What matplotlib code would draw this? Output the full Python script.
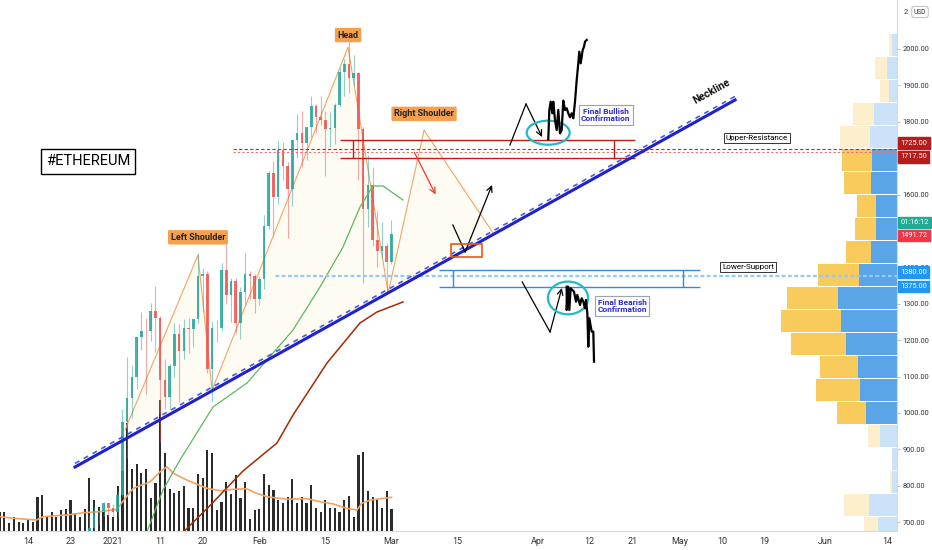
import matplotlib
matplotlib.use("Agg")
import matplotlib.pyplot as plt
import numpy as np
from matplotlib.patches import Ellipse, Rectangle, Polygon

plt.rcParams["font.family"] = ["Roboto", "DejaVu Sans"]

# ---- daily ETH candles, days counted from 1 Jan 2021 ----
DAYS = list(range(-5, 60))
OPEN = [635, 683, 731, 732, 752, 738, 729, 774, 976, 1041, 1099, 1208, 1225, 1224, 1281, 1262,
        1090, 1044, 1130, 1218, 1171, 1233, 1230, 1257, 1377, 1382, 1121, 1233, 1234, 1392, 1323,
        1362, 1246, 1332, 1381, 1377, 1314, 1369, 1514, 1660, 1593, 1723, 1678, 1614, 1750, 1769,
        1743, 1785, 1843, 1813, 1804, 1779, 1782, 1846, 1937, 1960, 1919, 1935, 1780, 1560, 1626,
        1475, 1446, 1459, 1416]
HIGH = [719, 745, 737, 755, 754, 749, 787, 1011, 1153, 1131, 1210, 1277, 1260, 1302, 1350, 1266,
        1149, 1135, 1247, 1244, 1259, 1260, 1257, 1440, 1397, 1390, 1254, 1256, 1411, 1470, 1370,
        1372, 1346, 1439, 1389, 1382, 1375, 1543, 1665, 1693, 1750, 1745, 1690, 1750, 1822, 1830,
        1787, 1870, 1850, 1872, 1830, 1827, 1853, 1951, 1972, 2042, 1983, 1938, 1785, 1710, 1675,
        1555, 1525, 1468, 1530]
LOW = [630, 681, 692, 716, 716, 714, 714, 768, 877, 986, 1065, 1172, 1051, 1198, 1167, 920,
       1010, 1011, 1100, 1030, 1149, 1165, 1181, 1248, 1278, 1110, 1031, 1196, 1226, 1300, 1251,
       1220, 1204, 1297, 1313, 1274, 1296, 1342, 1505, 1493, 1574, 1640, 1480, 1569, 1700, 1676,
       1696, 1759, 1770, 1790, 1652, 1730, 1740, 1842, 1871, 1880, 1897, 1640, 1357, 1510, 1460,
       1400, 1427, 1330, 1410]
CLOSE = [683, 731, 732, 752, 738, 729, 774, 976, 1041, 1099, 1208, 1225, 1224, 1281, 1262, 1090,
         1044, 1130, 1218, 1171, 1233, 1230, 1257, 1377, 1382, 1121, 1233, 1234, 1392, 1323, 1362,
         1246, 1332, 1381, 1377, 1314, 1369, 1514, 1660, 1593, 1723, 1678, 1614, 1750, 1769, 1743,
         1785, 1843, 1813, 1804, 1779, 1782, 1846, 1937, 1960, 1919, 1935, 1780, 1560, 1626, 1475,
         1446, 1459, 1416, 1491.72]

VOL_DAYS = list(range(-24, 60))
VOLUME = [19, 19, 8, 14, 9, 8, 11, 9, 34, 36, 14, 19, 14, 21, 22, 31, 18, 14, 22, 53, 31, 24, 21, 16,
          14, 45, 60, 108, 62, 67, 58, 62, 33, 48, 131, 78, 42, 38, 40, 45, 23, 23, 57, 53, 81, 78,
          21, 29, 49, 37, 56, 33, 49, 12, 21, 22, 57, 46, 41, 31, 28, 34, 52, 28, 34, 28, 46, 23,
          19, 31, 23, 23, 19, 31, 35, 14, 76, 79, 40, 34, 31, 23, 40, 22]
VOL_MA_DAYS = [-23.9, -21.1, -16.2, -14.8, -9.8, -6.3, -2.8, 0.8, 2.6, 4.3, 7.9, 10.0, 11.4, 12.8,
               15.6, 17.7, 19.9, 22.7, 25.5, 28.3, 30.4, 32.6, 36.8, 41.1, 43.9, 46.7, 49.5, 51.7,
               52.7, 54.5, 59.0]
VOL_MA = [14.3, 12.7, 11, 14.3, 16, 18.3, 19.3, 21.7, 32.7, 42.7, 49.3, 59.3, 64.3, 57.7, 51, 47,
          42.7, 40.3, 41.7, 42.3, 37.7, 34.3, 31.7, 32.3, 29.3, 27, 22.7, 21, 27.7, 31, 33.7]

MA_FAST_DAYS = [6.5, 10.59, 14.19, 21.19, 28.39, 32.63, 38.14, 43.86, 48.73, 52.33, 55.08, 57.2, 61.44]
MA_FAST = [650, 788.5, 870.9, 1016.5, 1082.4, 1145.6, 1228.0, 1346.2, 1456.0, 1565.9, 1623.6, 1623.6, 1585.2]
MA_SLOW_DAYS = [13.5, 20.5, 27.54, 34.75, 38.14, 45.34, 52.33, 55.93, 61.44]
MA_SLOW = [655, 745, 840.7, 917.6, 994.5, 1137.4, 1247.3, 1277.5, 1305.0]

# head & shoulders pattern: start, left shoulder, neck, head, neck, right shoulder, end
HS_DAYS = [2.54, 18.0, 21.0, 49.8, 58.3, 65.9, 80.5]
HS_PRICE = [953, 1434, 1063, 2005, 1330, 1777, 1495]

NECK_DAYS = [-8.05, 131.8]
NECK_PRICE = [851.6, 1860]

# projected bar patterns
BULL_DAYS = [92.22, 92.44, 92.73, 93.07, 93.28, 93.64, 94.0, 94.34, 94.7, 95.06, 95.4, 95.76, 96.12,
             96.46, 96.82, 97.18, 97.52, 97.88, 98.24, 98.58, 98.79, 99.09, 99.51, 99.79, 100.0, 100.36]
BULL_PRICE = [1751.9, 1832.4, 1855.2, 1823.4, 1855.2, 1805.0, 1777.5, 1832.4, 1768.4, 1777.5, 1858.0,
              1832.4, 1837.1, 1823.4, 1812.4, 1823.4, 1809.6, 1855.2, 1914.8, 1960.7, 1992.6, 1960.7,
              1997.3, 2006.3, 2020.1, 2024.7]
BEAR_DAYS = [96.12, 96.12, 96.46, 96.67, 96.97, 97.67, 98.09, 98.37, 98.94, 99.3, 99.64, 100.0,
             100.21, 100.49, 100.7, 100.91, 101.42, 101.76, 101.91]
BEAR_PRICE = [1347.0, 1283.0, 1347.0, 1283.0, 1342.6, 1333.2, 1305.8, 1324.2, 1296.7, 1315.1, 1305.8,
              1287.6, 1310.4, 1273.9, 1182.1, 1260.2, 1223.4, 1223.4, 1140.9]

TIME_TICKS = [-18, -9, 0, 10, 19, 31, 45, 59, 73, 90, 101, 110, 120, 129, 138, 151, 164]
TIME_LABELS = ["14", "23", "2021", "11", "20", "Feb", "15", "Mar", "15", "Apr", "12", "21",
               "May", "10", "19", "Jun", "14"]
PRICE_TICKS = [700, 800, 900, 1000, 1100, 1200, 1300, 1400, 1600, 1800, 1900, 2000]

# visible range volume profile, rows from the top
PROFILE_TOP = 2043
PROFILE_ROW = 63.2
PROFILE_UP = [5, 10, 8, 23, 27, 25, 26, 21, 21, 26, 38, 59, 56, 51, 39, 37, 31, 17, 5, 5, 28, 19]
PROFILE_DOWN = [3, 12, 9, 21, 30, 30, 27, 19, 21, 25, 41, 51, 60, 55, 38, 44, 29, 12, 0, 2, 25, 14]
PROFILE_IN_VALUE_AREA = [False] * 5 + [True] * 12 + [False] * 5

UP = "#26A69A"
DOWN = "#EF5350"

fig = plt.figure(figsize=(9.32, 5.5), dpi=100, facecolor="white")
rect = [0, 19 / 550, 897 / 932, 531 / 550]
XLIM = (-23.94, 166.1)
YLIM = (675.8, 2134.6)

# volume pane
ax_vol = fig.add_axes(rect, zorder=0)
ax_vol.bar(VOL_DAYS, VOLUME, width=0.45, color="#2b2b2b", zorder=2)
ax_vol.plot(VOL_MA_DAYS, VOL_MA, color="#F4A261", lw=1.2, zorder=3)
ax_vol.set_xlim(*XLIM)
ax_vol.set_ylim(0, 531)
ax_vol.axis("off")

# volume profile
ax_vp = fig.add_axes(rect, zorder=1)
centers = [PROFILE_TOP - (i + 0.5) * PROFILE_ROW for i in range(len(PROFILE_UP))]
for c, up, dn, bright in zip(centers, PROFILE_UP, PROFILE_DOWN, PROFILE_IN_VALUE_AREA):
    blue = "#5AA5E8" if bright else "#CBE3F8"
    yellow = "#F9CA5C" if bright else "#FDEFCB"
    ax_vp.barh(c, up, left=0, height=PROFILE_ROW * 0.95, color=blue, lw=0)
    ax_vp.barh(c, dn, left=up, height=PROFILE_ROW * 0.95, color=yellow, lw=0)
ax_vp.set_xlim(897, 0)
ax_vp.set_ylim(*YLIM)
ax_vp.axis("off")

# price pane
ax = fig.add_axes(rect, zorder=2)
ax.patch.set_visible(False)
ax.set_xlim(*XLIM)
ax.set_ylim(*YLIM)

# head & shoulders drawing
hs = list(zip(HS_DAYS, HS_PRICE))
for tri in (hs[0:3], hs[2:5], hs[4:7]):
    ax.add_patch(Polygon(tri, closed=True, fc="#FCEBC0", ec="none", alpha=0.18, zorder=1))
ax.plot(HS_DAYS, HS_PRICE, color="#F4A460", lw=0.8, zorder=2)

# candles
for d, o, h, l, c in zip(DAYS, OPEN, HIGH, LOW, CLOSE):
    col = UP if c >= o else DOWN
    ax.vlines(d, l, h, color=col, lw=0.8, alpha=0.5, zorder=3)
    ax.bar(d, abs(c - o), bottom=min(o, c), width=0.55, color=col, alpha=0.85, lw=0, zorder=3)

ax.plot(MA_FAST_DAYS, MA_FAST, color="#5CB85C", lw=0.9, zorder=4)
ax.plot(MA_SLOW_DAYS, MA_SLOW, color="#A52A00", lw=1.1, zorder=4)

# levels
ax.hlines(1725, 25.4, XLIM[1], color="#C62828", lw=0.8, linestyles=(0, (3, 2)), zorder=5)
ax.hlines(1717.5, 25.4, XLIM[1], color="#E57373", lw=0.8, linestyles=(0, (2, 2)), zorder=5)
ax.hlines([1380, 1375], 34.3, XLIM[1], color="#90CAF9", lw=0.9, linestyles=(0, (3, 2)), zorder=5)

ax.hlines([1750, 1700.5], 48.1, 110.6, color="#C41A1A", lw=1.0, zorder=5)
ax.vlines([50.8, 106.1], 1700.5, 1750, color="#C41A1A", lw=1.0, zorder=5)
ax.hlines([1393, 1346], 69.1, 124.4, color="#2A8FE0", lw=1.0, zorder=5)
ax.vlines([72.0, 120.8], 1346, 1393, color="#2A8FE0", lw=1.0, zorder=5)

# neckline
ax.plot(NECK_DAYS, NECK_PRICE, color="#1E22C8", lw=2.2, zorder=6)
ax.plot(NECK_DAYS, [p + 10 for p in NECK_PRICE], color="#4A5AE6", lw=1.2,
        dashes=(3, 3), zorder=6)
p0 = ax.transData.transform((NECK_DAYS[0], NECK_PRICE[0]))
p1 = ax.transData.transform((NECK_DAYS[1], NECK_PRICE[1]))
ang = np.degrees(np.arctan2(p1[1] - p0[1], p1[0] - p0[0]))
ax.text(126.9, 1882, "Neckline", rotation=ang, rotation_mode="anchor", ha="center", va="center",
        fontsize=7.5, fontweight="bold", color="#111", zorder=8)

# arrows and sketches
ax.annotate("", xy=(68.6, 1593.4), xytext=(63.6, 1722.5),
            arrowprops=dict(arrowstyle="->", color="#F03A2E", lw=0.9), zorder=7)
sketches = [
    ([72.0, 74.6], [1516.5, 1442.3], (80.3, 1626.4)),
    ([84.1, 87.5], [1736.3, 1849.0], (90.9, 1758.2)),
    ([86.7, 92.6], [1360.0, 1222.5], (95.1, 1343.4)),
]
for xs, ys, tip in sketches:
    ax.plot(xs, ys, color="black", lw=0.9, zorder=7)
    ax.annotate("", xy=tip, xytext=(xs[-1], ys[-1]),
                arrowprops=dict(arrowstyle="->", color="black", lw=0.9,
                                shrinkA=0, shrinkB=0), zorder=7)

ax.add_patch(Rectangle((71.6, 1428.6), 6.6, 35.7, fc="none", ec="#E8590C", lw=1.2, zorder=7))
ax.add_patch(Ellipse((92.2, 1770), 9.1, 66, fc="none", ec="#22B8CC", lw=1.6, zorder=7))
ax.add_patch(Ellipse((96.4, 1316), 8.5, 90, fc="none", ec="#22B8CC", lw=1.6, zorder=7))

ax.plot(BULL_DAYS, BULL_PRICE, color="black", lw=1.6, zorder=7)
ax.plot(BEAR_DAYS, BEAR_PRICE, color="black", lw=1.6, zorder=7)

# labels
orange_box = dict(boxstyle="round,pad=0.3,rounding_size=0.15", fc="#F5A04E", ec="none")
for (d, p), txt, off in zip([hs[1], hs[3], hs[5]], ["Left Shoulder", "Head", "Right Shoulder"],
                            [9.5, 5.5, 8.5]):
    ax.annotate(txt, xy=(d, p), xytext=(0, off), textcoords="offset points", ha="center",
                va="bottom", fontsize=6.5, fontweight="bold", color="#222", bbox=orange_box,
                zorder=9)

ax.text(0.0981, 0.6959, "#ETHEREUM", transform=ax.transAxes, ha="center", va="center",
        fontsize=10.5, color="black",
        bbox=dict(boxstyle="square,pad=0.35", fc="white", ec="black", lw=1), zorder=9)

note_box = dict(boxstyle="square,pad=0.25", fc="white", ec="#9AA3B5", lw=0.8)
ax.text(104.4, 1818.7, "Final Bullish\nConfirmation", ha="center", va="center", fontsize=6,
        fontweight="bold", color="#2A2AD6", linespacing=1.15, bbox=note_box, zorder=9)
ax.text(107.9, 1294, "Final Bearish\nConfirmation", ha="center", va="center", fontsize=6,
        fontweight="bold", color="#2A2AD6", linespacing=1.15, bbox=note_box, zorder=9)
level_box = dict(boxstyle="square,pad=0.25", fc="white", ec="#333", lw=0.7)
ax.text(136.4, 1755.5, "Upper-Resistance", ha="center", va="center", fontsize=5.8,
        color="black", bbox=level_box, zorder=9)
ax.text(134.5, 1401, "Lower-Support", ha="center", va="center", fontsize=5.8,
        color="black", bbox=level_box, zorder=9)

# axes styling
for s in ("top", "left"):
    ax.spines[s].set_visible(False)
for s in ("bottom", "right"):
    ax.spines[s].set_color("#D6D9DE")
    ax.spines[s].set_linewidth(0.8)
ax.set_xticks(TIME_TICKS)
ax.set_xticklabels(TIME_LABELS)
ax.tick_params(axis="x", length=0, pad=4, labelsize=6.5, labelcolor="#333")
ax.yaxis.tick_right()
ax.set_yticks(PRICE_TICKS)
ax.set_yticklabels([f"{p:.2f}" for p in PRICE_TICKS])
ax.tick_params(axis="y", length=2, width=0.6, color="#B0B4BA", pad=2, labelsize=5.3,
               labelcolor="#333")

# price scale tags
tags = [
    (1725, "1725.00", "#B71C1C", 4.3),
    (1717.5, "1717.50", "#B71C1C", -3.6),
    (1491.72, "01:16:12", "#22AB94", 8.3),
    (1491.72, "1491.72", "#F23645", -1.0),
    (1380, "1380.00", "#2196F3", 1.8),
    (1375, "1375.00", "#2196F3", -7.0),
]
for price, txt, col, off in tags:
    ax.annotate(txt, xy=(1, price), xycoords=ax.get_yaxis_transform(), xytext=(2.5, off),
                textcoords="offset points", ha="left", va="center", fontsize=5.3, color="white",
                bbox=dict(boxstyle="square,pad=0.3", fc=col, ec=col), annotation_clip=False,
                zorder=20)

fig.text(906 / 932, 1 - 13 / 550, "2", ha="center", va="center", fontsize=5.3, color="#333")
fig.text(920 / 932, 1 - 12 / 550, "USD", ha="center", va="center", fontsize=4.8, color="#333",
         bbox=dict(boxstyle="round,pad=0.3", fc="white", ec="#B0B4BA", lw=0.6), zorder=30)

fig.savefig("out.png", dpi=100, facecolor="white")
